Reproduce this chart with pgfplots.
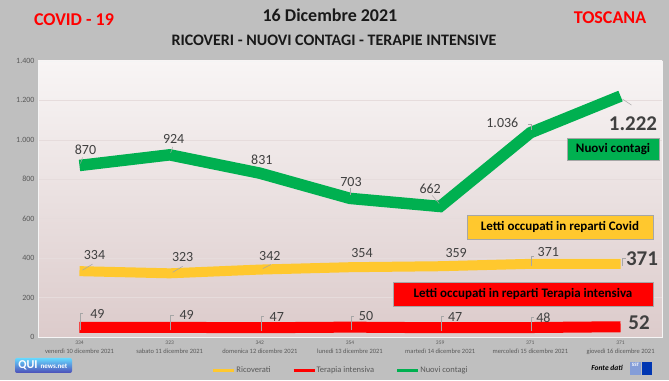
\documentclass[border=0pt]{standalone}
\usepackage{fontspec}
\setmainfont{Carlito}
\usepackage{pgfplots}
\pgfplotsset{compat=1.18}
\definecolor{bg}{HTML}{BFBFBF}
\definecolor{cgreen}{HTML}{00B050}
\definecolor{cyellow}{HTML}{FFC82E}
\definecolor{cred}{HTML}{FF0000}
\definecolor{labc}{HTML}{404040}
\definecolor{tickc}{HTML}{595959}
\definecolor{pinktop}{HTML}{F8F5F5}
\definecolor{pinkmid}{HTML}{DAC7C7}
\definecolor{pinkbot}{HTML}{DCCBCB}
\definecolor{gridc}{HTML}{E6DCDC}
\definecolor{leadc}{HTML}{A6A6A6}
\begin{document}
\begin{tikzpicture}[x=1pt,y=1pt,
  lab/.style={font=\fontsize{14}{16}\selectfont, text=labc, inner sep=0pt},
  big/.style={font=\bfseries\fontsize{21}{24}\selectfont, text=labc, inner sep=0pt},
  boxt/.style={font=\bfseries\fontsize{13}{15}\selectfont, text=black, draw=black!35, line width=0.4pt, inner sep=0pt}]
\fill[bg] (0,0) rectangle (669,380);
\node[font=\bfseries\fontsize{18}{20}\selectfont, text=cred] at (74,360) {COVID - 19};
\node[font=\bfseries\fontsize{18}{20}\selectfont, text=black!90] at (330,365) {16 Dicembre 2021};
\node[font=\bfseries\fontsize{16}{18}\selectfont, text=black!90] at (334,340) {RICOVERI - NUOVI CONTAGI - TERAPIE INTENSIVE};
\node[font=\bfseries\fontsize{18}{20}\selectfont, text=cred] at (610,362) {TOSCANA};
\begin{axis}[at={(38pt,43pt)}, anchor=south west, scale only axis,
  width=624pt, height=276pt,
  xmin=-0.46, xmax=6.46, ymin=0, ymax=1400,
  ytick={0,200,...,1400},
  xtick={0,...,6},
  xticklabels={
    {{\fontsize{5.5}{6}\selectfont 334}\\venerdì 10 dicembre 2021},
    {{\fontsize{5.5}{6}\selectfont 323}\\sabato 11 dicembre 2021},
    {{\fontsize{5.5}{6}\selectfont 342}\\domenica 12 dicembre 2021},
    {{\fontsize{5.5}{6}\selectfont 354}\\lunedì 13 dicembre 2021},
    {{\fontsize{5.5}{6}\selectfont 359}\\martedì 14 dicembre 2021},
    {{\fontsize{5.5}{6}\selectfont 371}\\mercoledì 15 dicembre 2021},
    {{\fontsize{5.5}{6}\selectfont 371}\\giovedì 16 dicembre 2021}},
  xticklabel style={font=\fontsize{6.5}{8.5}\selectfont, text=tickc, align=center, inner sep=1pt, yshift=-3pt},
  yticklabel style={font=\fontsize{8}{9}\selectfont, text=tickc, /pgf/number format/.cd, 1000 sep={.}, assume math mode=true},
  scaled y ticks=false,
  tick style={draw=none},
  axis line style={draw=white!92!gray, line width=0.6pt},
  ymajorgrids, grid style={draw=gridc, line width=0.6pt},
  axis background/.style={shade, top color=pinktop, middle color=pinkmid, bottom color=pinkbot},
  clip=false,
  legend columns=3,
  legend cell align=left,
  legend style={at={(0.484,-0.121)}, anchor=center, draw=none, fill=none,
    font=\fontsize{8.5}{10}\selectfont, text=tickc, inner sep=0pt,
    nodes={inner xsep=0.5pt},
    /tikz/every even column/.append style={column sep=21pt}},
  legend image code/.code={\draw[#1, line width=3pt] (0pt,0pt) -- (21pt,0pt);},
]
\addplot[cyellow, line width=10pt] coordinates {(0,334) (1,323) (2,342) (3,354) (4,359) (5,371) (6,371)};
\addlegendentry{Ricoverati}
\addplot[cred, line width=11pt] coordinates {(0,49) (1,49) (2,47) (3,50) (4,47) (5,48) (6,52)};
\addlegendentry{Terapia intensiva}
\addplot[cgreen, line width=11.5pt, line join=miter] coordinates {(0,870) (1,924) (2,831) (3,703) (4,662) (5,1036) (6,1222)};
\addlegendentry{Nuovi contagi}
% leader lines
\draw[leadc, line width=0.5pt] (axis cs:0,870) ++(1pt,2pt) -- ++(2pt,6pt);
\draw[leadc, line width=0.5pt] (axis cs:1,924) ++(1pt,2pt) -- ++(2pt,6pt);
\draw[leadc, line width=0.5pt] (axis cs:3,703) ++(0pt,3pt) -- ++(0pt,7pt);
\draw[leadc, line width=0.5pt] (axis cs:4,662) ++(-1pt,3pt) -- ++(-7pt,8pt);
\draw[leadc, line width=0.5pt] (axis cs:5,1036) ++(1pt,3pt) -- ++(0pt,6pt) -- ++(-3pt,0pt);
\draw[leadc, line width=0.5pt] (axis cs:6,1222) ++(2pt,-3pt) -- ++(9pt,-6pt);
\draw[leadc, line width=0.5pt] (axis cs:0,334) ++(3pt,1pt) -- ++(10pt,6pt);
\draw[leadc, line width=0.5pt] (axis cs:1,323) ++(3pt,1pt) -- ++(10pt,6pt);
\draw[leadc, line width=0.5pt] (axis cs:2,342) ++(3pt,1pt) -- ++(8pt,4pt);
\draw[leadc, line width=0.5pt] (axis cs:5,371) ++(1pt,-2pt) -- ++(0pt,10pt) -- ++(3pt,0pt);
\draw[leadc, line width=0.5pt] (axis cs:6,371) ++(2pt,-2pt) -- ++(0pt,8pt) -- ++(3pt,0pt);
\draw[leadc, line width=0.5pt] (axis cs:0,49) ++(1pt,-3pt) -- ++(0pt,17pt) -- ++(3pt,0pt);
\draw[leadc, line width=0.5pt] (axis cs:1,49) ++(1pt,-3pt) -- ++(0pt,15pt) -- ++(3pt,0pt);
\draw[leadc, line width=0.5pt] (axis cs:2,47) ++(1pt,-3pt) -- ++(0pt,14pt) -- ++(3pt,0pt);
\draw[leadc, line width=0.5pt] (axis cs:3,50) ++(1pt,-3pt) -- ++(0pt,14pt) -- ++(3pt,0pt);
\draw[leadc, line width=0.5pt] (axis cs:4,47) ++(1pt,-3pt) -- ++(0pt,14pt) -- ++(3pt,0pt);
\draw[leadc, line width=0.5pt] (axis cs:5,48) ++(1pt,-3pt) -- ++(0pt,13pt) -- ++(3pt,0pt);
% green labels
\node[lab, xshift=6pt, yshift=16pt] at (axis cs:0,870) {870};
\node[lab, xshift=4pt, yshift=16pt] at (axis cs:1,924) {924};
\node[lab, xshift=2pt, yshift=13pt] at (axis cs:2,831) {831};
\node[lab, xshift=1pt, yshift=16pt] at (axis cs:3,703) {703};
\node[lab, xshift=-10pt, yshift=18pt] at (axis cs:4,662) {662};
\node[lab, xshift=-28pt, yshift=10pt] at (axis cs:5,1036) {1.036};
\node[big, xshift=12.5pt, yshift=-28pt] at (axis cs:6,1222) {1.222};
% yellow labels
\node[lab, xshift=15pt, yshift=16pt] at (axis cs:0,334) {334};
\node[lab, xshift=13pt, yshift=16pt] at (axis cs:1,323) {323};
\node[lab, xshift=10pt, yshift=14pt] at (axis cs:2,342) {342};
\node[lab, xshift=12pt, yshift=14pt] at (axis cs:3,354) {354};
\node[lab, xshift=16pt, yshift=13pt] at (axis cs:4,359) {359};
\node[lab, xshift=18pt, yshift=12pt] at (axis cs:5,371) {371};
\node[big, xshift=21.5pt, yshift=5pt] at (axis cs:6,371) {371};
% red labels
\node[lab, xshift=18pt, yshift=13pt] at (axis cs:0,49) {49};
\node[lab, xshift=17pt, yshift=12pt] at (axis cs:1,49) {49};
\node[lab, xshift=17pt, yshift=11pt] at (axis cs:2,47) {47};
\node[lab, xshift=16pt, yshift=11pt] at (axis cs:3,50) {50};
\node[lab, xshift=15pt, yshift=11pt] at (axis cs:4,47) {47};
\node[lab, xshift=13pt, yshift=10pt] at (axis cs:5,48) {48};
\node[big, xshift=18.5pt, yshift=4pt] at (axis cs:6,52) {52};
\end{axis}
% annotation boxes
\node[boxt, fill=cgreen, minimum width=92pt, minimum height=22pt] at (613,231) {Nuovi contagi};
\node[boxt, fill=cyellow, minimum width=186pt, minimum height=24pt] at (560,153) {Letti occupati in reparti Covid};
\node[boxt, fill=cred, minimum width=260pt, minimum height=24pt] at (523,86) {Letti occupati in reparti Terapia intensiva};
% logos
\shade[top color=blue!25!cyan!60!white, bottom color=blue!60!black!70, rounded corners=2pt] (15,7) rectangle (72,22);
\node[font=\bfseries\fontsize{12}{12}\selectfont, text=white, inner sep=0pt] at (28,14.5) {QUI};
\node[font=\bfseries\fontsize{7}{8}\selectfont, text=white, inner sep=0pt] at (54,13.5) {news.net};
\node[font=\bfseries\itshape\fontsize{7.5}{9}\selectfont, text=black, inner sep=0pt] at (607,12) {Fonte dati};
\fill[cyan!40!blue!50!white] (630,5) rectangle (641,18);
\node[font=\bfseries\fontsize{5}{5}\selectfont, text=white, inner sep=0pt] at (635.5,15) {SST};
\fill[blue!70!cyan!70!black] (642,5) rectangle (652,18);
\pgfresetboundingbox
\path[use as bounding box] (0,0) rectangle (669,380);
\end{tikzpicture}
\end{document}
